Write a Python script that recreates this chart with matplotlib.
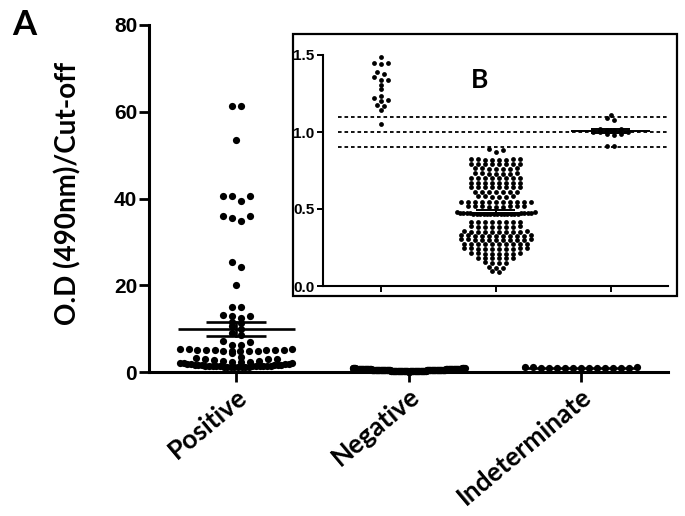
import numpy as np
import matplotlib
matplotlib.use('Agg')
import matplotlib.pyplot as plt
from matplotlib.patches import Rectangle

groups = ['Positive', 'Negative', 'Indeterminate']

# O.D(490nm)/cut-off ratios
positive = [61.3, 61.3, 53.5,
            40.6, 40.6, 40.6, 39.5,
            36.0, 35.9, 35.6, 34.9,
            25.3, 24.2, 20.1, 15.0, 15.0,
            13.2, 12.9, 12.8, 12.5, 11.5, 11.2, 10.5, 9.8, 9.0, 8.6,
            7.2, 7.0, 6.3, 6.3,
            5.3, 5.25, 5.2, 5.15, 5.1, 5.1, 5.05, 5.0, 5.0, 4.95, 4.95, 4.9, 4.9, 4.9,
            4.3,
            3.5, 3.3, 3.1, 3.0, 2.9, 2.75, 2.6, 2.5, 2.4, 2.3,
            2.2, 2.15, 2.08, 2.0, 1.95, 1.9, 1.85, 1.78, 1.72, 1.68, 1.63, 1.6, 1.55, 1.52,
            1.49, 1.45, 1.45, 1.44, 1.39, 1.375, 1.355, 1.34, 1.34, 1.305,
            1.28, 1.235, 1.22, 1.21, 1.20, 1.175, 1.17, 1.145, 1.05]

negative = [0.09, 0.10,
            0.12, 0.12, 0.125,
            0.15, 0.15, 0.15, 0.155,
            0.18, 0.18, 0.18, 0.18, 0.185, 0.185,
            0.21, 0.21, 0.21, 0.21, 0.21, 0.215, 0.215, 0.215,
            0.24, 0.24, 0.24, 0.24, 0.24, 0.24, 0.245, 0.245, 0.245, 0.245,
            0.27, 0.27, 0.27, 0.27, 0.27, 0.27, 0.275, 0.275, 0.275, 0.275,
            0.297, 0.297, 0.297, 0.30, 0.30, 0.30, 0.30, 0.30, 0.302, 0.302, 0.302,
            0.323, 0.323, 0.323, 0.325, 0.325, 0.325, 0.325, 0.325, 0.328, 0.328, 0.328,
            0.35, 0.35, 0.35, 0.35, 0.35, 0.352, 0.352, 0.352, 0.355, 0.355,
            0.383, 0.383, 0.383, 0.385, 0.385, 0.385, 0.387, 0.387,
            0.415, 0.415, 0.415, 0.415, 0.417, 0.417, 0.417, 0.417,
            0.465, 0.465, 0.466, 0.466, 0.467, 0.467, 0.468, 0.468, 0.469, 0.469, 0.47, 0.47,
            0.47, 0.47, 0.472, 0.472, 0.473, 0.473, 0.475, 0.475, 0.477, 0.477, 0.478, 0.478,
            0.515, 0.515, 0.515, 0.517, 0.517, 0.517, 0.519, 0.519, 0.519,
            0.545, 0.545, 0.545, 0.545, 0.546, 0.546, 0.546, 0.548, 0.548, 0.548, 0.548,
            0.58, 0.58, 0.58, 0.582, 0.582, 0.582,
            0.61, 0.61, 0.61, 0.61, 0.612, 0.612, 0.612,
            0.64, 0.64, 0.64, 0.64, 0.643, 0.643, 0.643, 0.643,
            0.67, 0.67, 0.67, 0.67, 0.672, 0.672, 0.672, 0.672,
            0.70, 0.70, 0.70, 0.70, 0.702, 0.702, 0.702, 0.702,
            0.73, 0.73, 0.73, 0.73, 0.732, 0.732, 0.732,
            0.76, 0.76, 0.76, 0.76, 0.763, 0.763, 0.763,
            0.79, 0.79, 0.79, 0.79, 0.792, 0.792, 0.792, 0.792,
            0.82, 0.82, 0.82, 0.82, 0.823, 0.823, 0.823, 0.823,
            0.87, 0.88, 0.89]

indeterminate = [0.91, 0.91, 0.98, 0.99, 0.99, 1.0, 1.0, 1.0, 1.01, 1.01,
                 1.02, 1.02, 1.08, 1.09, 1.11]

cutoffs = [0.9, 1.0, 1.1]

W, H, DPI = 6.85, 5.16, 100


def dot_layout(vals, ax, xlim, ylim, dot_px, step_px, max_px, row_frac=0.7):
    # graphpad-like scatter: points binned in rows, lowest value in the middle
    pos = ax.get_position()
    xppu = pos.width * W * DPI / (xlim[1] - xlim[0])
    yppu = pos.height * H * DPI / (ylim[1] - ylim[0])
    v = np.sort(np.asarray(vals, dtype=float))
    offs = np.zeros(len(v))
    thresh = row_frac * dot_px / yppu
    start = 0
    for i in range(1, len(v) + 1):
        if i == len(v) or v[i] - v[start] > thresh:
            n = i - start
            step = min(step_px, max_px / max(n - 1, 1))
            for k in range(n):
                if n % 2:
                    p = ((k + 1) // 2) * (1 if k % 2 else -1)
                else:
                    p = (k // 2 + 0.5) * (1 if k % 2 == 0 else -1)
                offs[start + k] = p * step / xppu
            start = i
    return offs, v


def mean_sem(ax, i, vals, half, cap, lw, err=True):
    m = np.mean(vals)
    s = np.std(vals, ddof=1) / np.sqrt(len(vals))
    ax.plot([i - half, i + half], [m, m], color='k', lw=lw, zorder=5, solid_capstyle='butt')
    if err:
        ax.plot([i, i], [m - s, m + s], color='k', lw=lw, zorder=5)
        for y in (m - s, m + s):
            ax.plot([i - cap, i + cap], [y, y], color='k', lw=lw, zorder=5, solid_capstyle='butt')


fig = plt.figure(figsize=(W, H), dpi=DPI)

# main panel A
ax = fig.add_axes([149 / 685, 1 - 372 / 516, 519 / 685, 347 / 516])
xl, yl = (-0.506, 2.506), (0, 80)
ax.set_xlim(*xl)
ax.set_ylim(*yl)
for i, vals in enumerate([positive, negative, indeterminate]):
    dx, v = dot_layout(vals, ax, xl, yl, dot_px=7, step_px=9, max_px=112)
    ax.scatter(i + dx, v, s=27, color='k', lw=0, zorder=4, clip_on=False)
    mean_sem(ax, i, vals, 0.34, 0.175, 1.9, err=(i == 0))

for sp in ['top', 'right']:
    ax.spines[sp].set_visible(False)
for sp in ['left', 'bottom']:
    ax.spines[sp].set_linewidth(2.2)
ax.set_yticks([0, 20, 40, 60, 80])
ax.set_xticks([0, 1, 2])
ax.tick_params(width=2, length=7, pad=1.5)
ax.set_yticklabels(['0', '20', '40', '60', '80'], fontsize=15, fontweight='bold',
                   family='Liberation Sans')
ax.set_xticklabels(groups, rotation=40, ha='right', rotation_mode='anchor',
                   fontsize=19, fontweight='bold', family='Lato')

fig.text(68 / 685, 1 - 193 / 516, 'O.D (490nm)/Cut-off', rotation=90, ha='center',
         va='center', fontsize=20, fontweight='bold', family='Lato')
fig.text(12 / 685, 1 - 35 / 516, 'A', ha='left', va='baseline', fontsize=25,
         fontweight='bold', family='Lato')

# inset panel B
fig.add_artist(Rectangle((293 / 685, 1 - 296 / 516), 384 / 685, 262 / 516,
                         transform=fig.transFigure, fill=False, ec='k', lw=1.6, zorder=3))
ins = fig.add_axes([323 / 685, 1 - 286 / 516, 345 / 685, 231 / 516])
xl2, yl2 = (-0.5, 2.5), (0, 1.5)
ins.set_xlim(*xl2)
ins.set_ylim(*yl2)
for c in cutoffs:
    ins.plot([-0.37, 2.5], [c, c], color='k', lw=1.3, ls=(0, (2, 1.6)), zorder=2)
for i, vals in enumerate([positive, negative, indeterminate]):
    dx, v = dot_layout(vals, ins, xl2, yl2, dot_px=4.7, step_px=7, max_px=78)
    ins.scatter(i + dx, v, s=12, color='k', lw=0, zorder=4)
    if i > 0:
        mean_sem(ins, i, vals, 0.34, 0.17, 1.4)
for sp in ['top', 'right']:
    ins.spines[sp].set_visible(False)
for sp in ['left', 'bottom']:
    ins.spines[sp].set_linewidth(1.5)
ins.set_xticks([0, 1, 2])
ins.set_xticklabels([])
ins.set_yticks([0, 0.5, 1.0, 1.5])
ins.set_yticklabels(['0.0', '0.5', '1.0', '1.5'], fontsize=11, fontweight='bold',
                    family='Liberation Sans')
ins.tick_params(width=1.4, length=4.5, pad=1.5)
fig.text(480 / 685, 1 - 88 / 516, 'B', ha='center', va='baseline', fontsize=19,
         fontweight='bold', family='Lato')

fig.savefig('out.png', dpi=DPI)
